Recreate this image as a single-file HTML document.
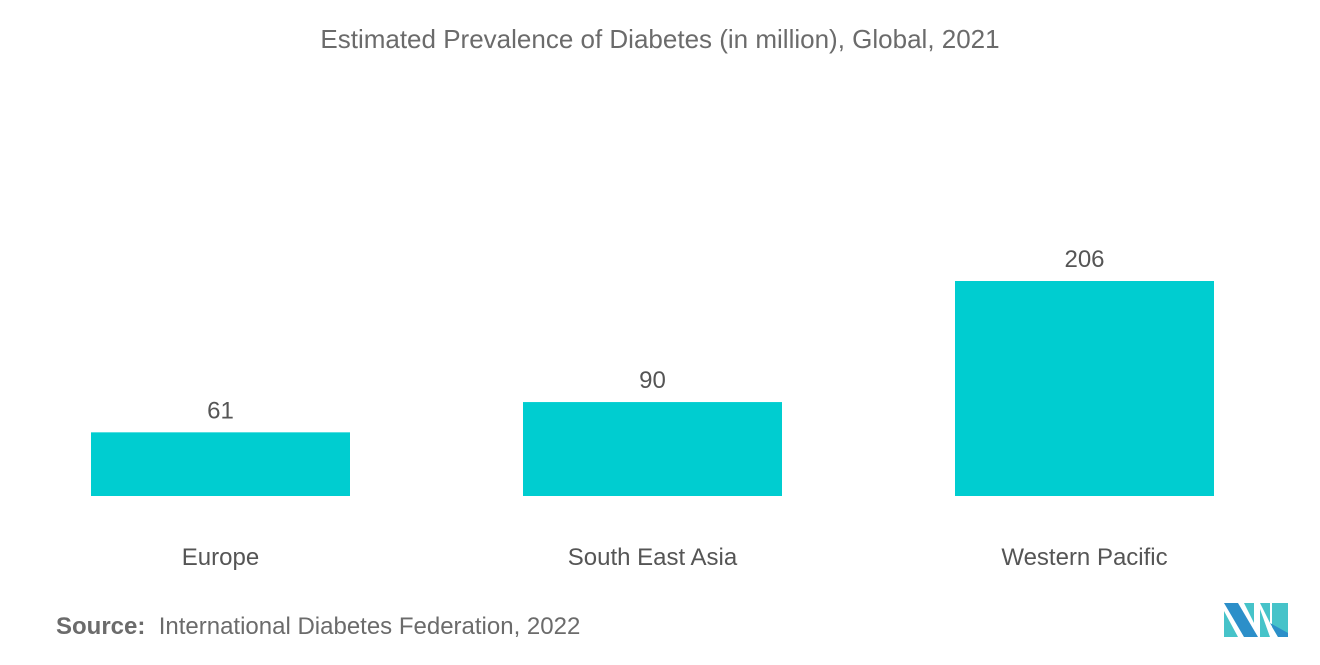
<!DOCTYPE html>
<html><head><meta charset="utf-8"><style>
body{margin:0;width:1320px;height:665px;background:#fff;font-family:"Liberation Sans",sans-serif;overflow:hidden;position:relative}
.t{position:absolute;white-space:nowrap}
</style></head><body>
<div class="t" style="left:0;width:1320px;top:24px;text-align:center;font-size:26px;color:#6b6b6b">Estimated Prevalence of Diabetes (in million), Global, 2021</div>
<svg id="chart" width="1320" height="600" style="position:absolute;left:0;top:0"></svg>
<div class="t" style="left:56px;top:613px;font-size:24px;color:#6b6b6b"><b style="color:#6b6b6b;font-weight:bold">Source:</b>&nbsp; International Diabetes Federation, 2022</div>
<svg width="66" height="36" style="position:absolute;left:1224px;top:603px" viewBox="0 0 66 36">
<polygon points="0,0 14,0 34,34 20,34" fill="#2c8fc9"/>
<polygon points="0,8 0,34 14,34" fill="#46c3c9"/>
<polygon points="20,0 30,0 30,20" fill="#46c3c9"/>
<polygon points="36,0 46,0 46,20" fill="#46c3c9"/>
<polygon points="36,6 36,34 46,34" fill="#46c3c9"/>
<polygon points="48,0 64,0 64,34 54,34 48,24" fill="#46c3c9"/>
<polygon points="46,20 54,34 64,34 64,30" fill="#2c8fc9"/>
</svg>
<script>
const categories=["Europe","South East Asia","Western Pacific"];
const values=[61,90,206];
const svg=document.getElementById('chart');
const NS="http://www.w3.org/2000/svg";
const baseY=496, pxPerUnit=215/206;
const y=v=>baseY-v*pxPerUnit;
const x=i=>91+i*432;
const bw=259;
categories.forEach((c,i)=>{
  const r=document.createElementNS(NS,'rect');
  
  
  r.setAttribute('x',x(i));r.setAttribute('y',y(values[i]));
  r.setAttribute('width',bw);r.setAttribute('height',baseY-y(values[i]));
  r.setAttribute('fill','#00cdd0');svg.appendChild(r);
  const v=document.createElementNS(NS,'text');
  
  
  v.setAttribute('x',x(i)+bw/2);v.setAttribute('y',y(values[i])-14);
  v.setAttribute('text-anchor','middle');v.setAttribute('font-size','24');
  v.setAttribute('fill','#555');v.setAttribute('font-family','Liberation Sans');
  v.textContent=values[i];svg.appendChild(v);
  const l=document.createElementNS(NS,'text');
  
  
  l.setAttribute('x',x(i)+bw/2);l.setAttribute('y',565);
  l.setAttribute('text-anchor','middle');l.setAttribute('font-size','24');
  l.setAttribute('fill','#555');l.setAttribute('font-family','Liberation Sans');
  l.textContent=c;svg.appendChild(l);
});
</script>
</body></html>
